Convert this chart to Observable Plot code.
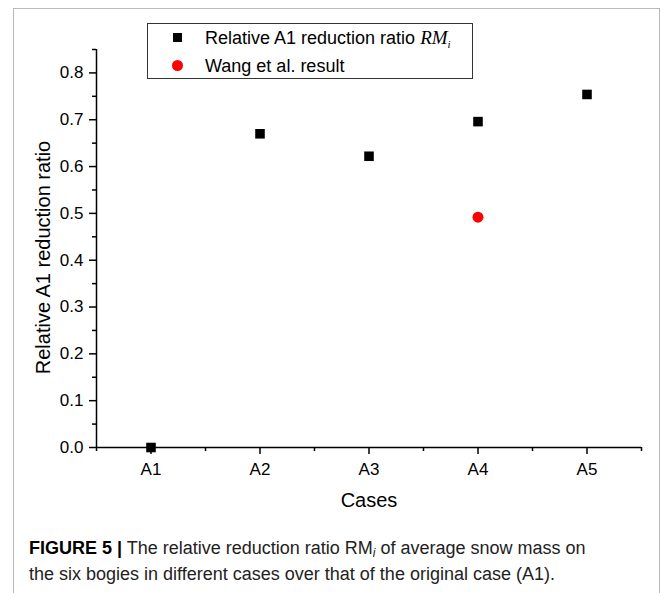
<!DOCTYPE html>
<html>
<head>
<meta charset="utf-8">
<script src="https://cdn.jsdelivr.net/npm/d3@7"></script>
<script src="https://cdn.jsdelivr.net/npm/@observablehq/plot@0.6"></script>
<style>
  html, body { margin: 0; padding: 0; background: #fff; }
  #wrap { position: relative; width: 663px; height: 593px; overflow: hidden; background: #fff; font-family: "Liberation Sans", Arial, sans-serif; }
  #frame { position: absolute; left: 13px; top: 8px; width: 647px; height: 620px; border: 1.5px solid #b9b9b9; box-sizing: border-box; }
  #chart { position: absolute; left: 0; top: 0; }
  #legend { position: absolute; left: 147px; top: 23px; width: 326px; height: 56px; border: 1px solid #333; box-sizing: border-box; background: #fff; font-size: 18px; color: #000; }
  .row { position: absolute; left: 0; height: 24px; line-height: 24px; white-space: nowrap; }
  .sq { position: absolute; left: 25px; top: 7px; width: 9px; height: 9px; background: #000; }
  .ci { position: absolute; left: 24px; top: 6px; width: 11px; height: 11px; border-radius: 50%; background: #ff0000; }
  .lt { position: absolute; left: 57px; top: 0; }
  .rm { font-family: "Liberation Serif", "Times New Roman", serif; font-style: italic; font-size: 19px; }
  .rm sub { font-size: 11px; vertical-align: -4px; line-height: 0; }
  #caption { position: absolute; left: 29px; top: 535px; font-size: 18px; line-height: 26px; color: #222; white-space: nowrap; }
  #caption b { font-weight: bold; color: #000; }
  #caption i { font-size: 12px; vertical-align: -3px; line-height: 0; }
</style>
</head>
<body>
<div id="wrap">
  <div id="frame"></div>
  <div id="chart"></div>
  <div id="legend"></div>
  <div id="caption"></div>
</div>
<script>
// ---- data ----
const caseNames = ["A1", "A2", "A3", "A4", "A5"];
const caseIndex = [1, 2, 3, 4, 5];
const rmValues = [0.0, 0.67, 0.622, 0.696, 0.754];
const wangCase = [4];
const wangValues = [0.492];
const yTicks = [0, 0.1, 0.2, 0.3, 0.4, 0.5, 0.6, 0.7, 0.8];
const yMinorTicks = [0.05, 0.15, 0.25, 0.35, 0.45, 0.55, 0.65, 0.75, 0.85];
const xMinorTicks = [0.5, 1.5, 2.5, 3.5, 4.5, 5.5];
const xLabel = "Cases";
const yLabel = "Relative A1 reduction ratio";
const legendLabels = ["Relative A1 reduction ratio", "Wang et al. result"];

const rmData = caseIndex.map((c, i) => ({c, v: rmValues[i]}));
const wangData = wangCase.map((c, i) => ({c, v: wangValues[i]}));

const chart = Plot.plot({
  width: 663,
  height: 525,
  marginLeft: 96,
  marginRight: 22,
  marginTop: 49,
  marginBottom: 78,
  style: {fontFamily: "'Liberation Sans', Arial, sans-serif", fontSize: "17px", color: "#000", background: "transparent", overflow: "visible"},
  x: {domain: [0.5, 5.5]},
  y: {domain: [0, 0.85]},
  marks: [
    Plot.axisY({ticks: yTicks, tickSize: 7, tickPadding: 6, tickFormat: d3.format(".1f"), label: null, strokeWidth: 1.5, fontSize: 17}),
    Plot.axisY({ticks: yMinorTicks, tickSize: 4, tickFormat: () => "", label: null, strokeWidth: 1.5}),
    Plot.axisX({ticks: caseIndex, tickSize: 7, tickPadding: 8, tickFormat: (d) => caseNames[caseIndex.indexOf(d)], label: null, strokeWidth: 1.5, fontSize: 17}),
    Plot.axisX({ticks: xMinorTicks, tickSize: 4, tickFormat: () => "", label: null, strokeWidth: 1.5}),
    Plot.ruleY([0], {x1: 0.5, x2: 5.5, stroke: "#000", strokeWidth: 1.5}),
    Plot.ruleX([0.5], {y1: 0, y2: 0.85, stroke: "#000", strokeWidth: 1.5}),
    Plot.text([yLabel], {frameAnchor: "left", rotate: -90, dx: -53, dy: 9, fontSize: 20, lineAnchor: "middle", textAnchor: "middle", fill: "#000"}),
    Plot.text([xLabel], {frameAnchor: "bottom", dy: 53, fontSize: 20, lineAnchor: "middle", textAnchor: "middle", fill: "#000"}),
    Plot.dot(rmData, {x: "c", y: "v", symbol: "square", r: 5.4, fill: "#000", stroke: "none"}),
    Plot.dot(wangData, {x: "c", y: "v", symbol: "circle", r: 5.5, fill: "#ff0000", stroke: "none"})
  ]
});
document.getElementById("chart").appendChild(chart);

// legend
const lg = document.getElementById("legend");
lg.innerHTML =
  `<div class="row" style="top:2px"><div class="sq"></div><span class="lt">${legendLabels[0]} <span class="rm">RM<sub>i</sub></span></span></div>` +
  `<div class="row" style="top:30px"><div class="ci"></div><span class="lt">${legendLabels[1]}</span></div>`;

// caption
document.getElementById("caption").innerHTML =
  `<b>FIGURE 5 |</b> The relative reduction ratio RM<i>i</i> of average snow mass on<br>the six bogies in different cases over that of the original case (A1).`;
</script>
</body>
</html>
